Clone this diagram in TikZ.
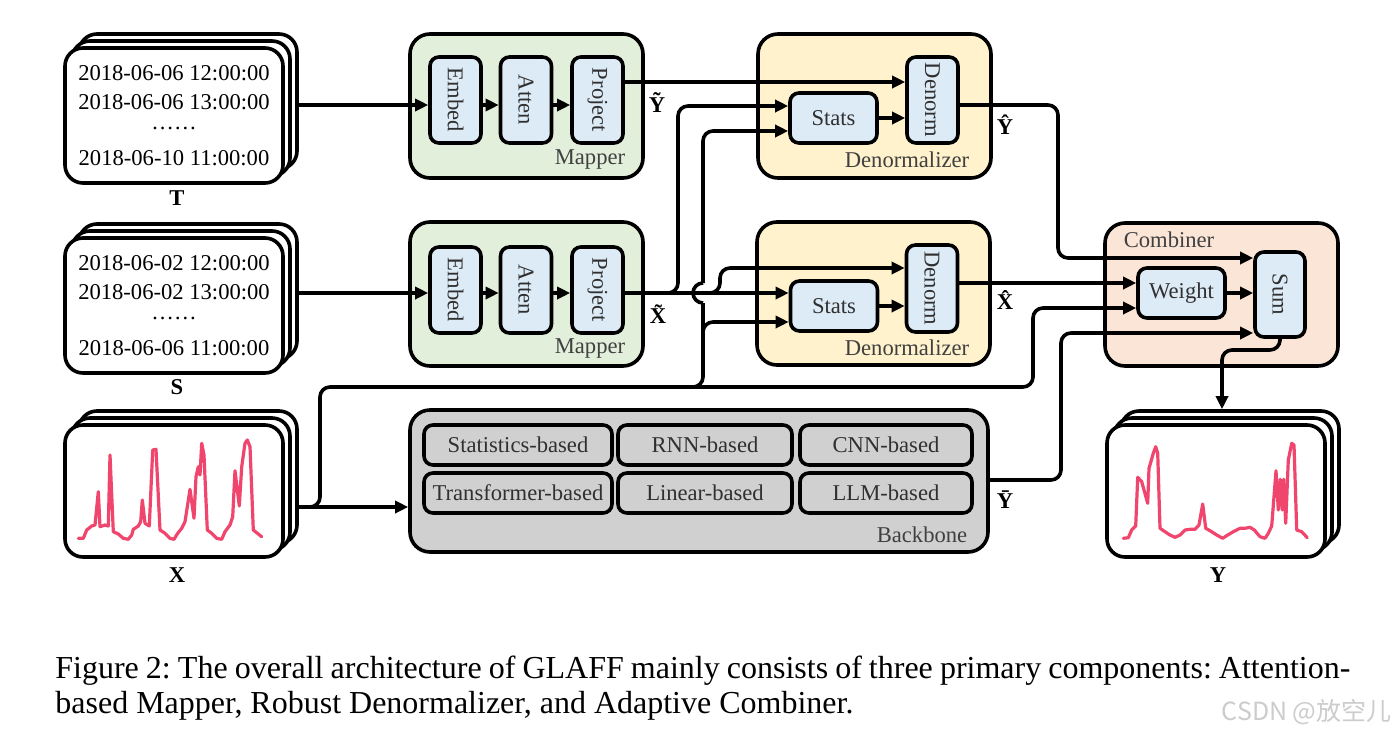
\documentclass[tikz,border=0pt]{standalone}
\usepackage{fontspec}
\usepackage{graphicx}
\setmainfont{Liberation Serif}
\newfontfamily\cjkfont{Noto Sans CJK SC}
\usetikzlibrary{arrows.meta,fit}
\definecolor{mapg}{HTML}{E2EFDA}
\definecolor{denormy}{HTML}{FFF2CC}
\definecolor{combp}{HTML}{FBE5D6}
\definecolor{boxb}{HTML}{DDEBF7}
\definecolor{bbgray}{HTML}{D0D0D0}
\definecolor{txtg}{HTML}{303030}
\definecolor{labg}{HTML}{404040}
\definecolor{curvep}{HTML}{F0466E}
\newcommand{\fsz}{\fontsize{11.3}{13.5}\selectfont}
\frenchspacing
\begin{document}
\begin{tikzpicture}[x=0.5pt,y=-0.5pt,
  lw/.style={line width=1.8pt},
  modbox/.style={draw, lw, rounded corners=10pt, inner sep=0pt},
  ibox/.style={draw, lw, fill=boxb, rounded corners=4.5pt, inner sep=0pt, font=\fsz, text=txtg},
  vbox/.style={ibox, minimum width=25.5pt, minimum height=43pt},
  hbox/.style={ibox, minimum width=43.5pt, minimum height=25pt},
  bbbox/.style={ibox, fill=bbgray, minimum height=20pt},
  cardl/.style={draw, line width=1.8pt, fill=white, rounded corners=9pt, inner sep=0pt},
  arr/.style={lw, rounded corners=5pt, -{Triangle[length=6.5pt,width=6pt]}},
  wire/.style={lw, rounded corners=5pt},
  modlabel/.style={font=\fsz, text=labg, inner sep=0pt},
  sym/.style={font=\fsz\bfseries, inner sep=0pt},
  datet/.style={font=\fsz, inner sep=0pt},
  curve/.style={line width=1.6pt, draw=curvep, line join=round, line cap=round}
]
\useasboundingbox (0,0) rectangle (1397,734);

% ---------- cards ----------
\node[cardl, fit={(79,34) (297,169)}] (tb2) {};
\node[cardl, fit={(72,41) (290,176)}] (tb1) {};
\node[cardl, fit={(65,48) (283,183)}] (tcard) {};
\node[datet] (t1) at (174,73) {2018-06-06 12:00:00};
\node[datet] (t2) at (174,102) {2018-06-06 13:00:00};
\node[datet] (t3) at (174,128) {……};
\node[datet] (t4) at (174,158) {2018-06-10 11:00:00};
\node[sym] (tlab) at (177,198) {T};

\node[cardl, fit={(79,224) (297,359)}] (sb2) {};
\node[cardl, fit={(72,231) (290,366)}] (sb1) {};
\node[cardl, fit={(65,238) (283,373)}] (scard) {};
\node[datet] (s1) at (174,263) {2018-06-02 12:00:00};
\node[datet] (s2) at (174,292) {2018-06-02 13:00:00};
\node[datet] (s3) at (174,318) {……};
\node[datet] (s4) at (174,348) {2018-06-06 11:00:00};
\node[sym] (slab) at (177,387) {S};

\node[cardl, fit={(79,411) (297,543)}] (xb2) {};
\node[cardl, fit={(72,418) (290,550)}] (xb1) {};
\node[cardl, fit={(65,425) (283,557)}] (xcard) {};
\draw[curve] (78.3,538.3) -- (83.3,538.3) -- (86.7,530) -- (91.7,526) -- (95,525) -- (98.3,491.7) -- (100,526.7) -- (105,525) -- (108.3,526) -- (110,455) -- (113.3,531.7) -- (118.3,534) -- (123.3,538.3) -- (128.3,539.3) -- (131.7,535) -- (133.3,529.3) -- (138.3,526) -- (140.7,521.7) -- (142.3,500) -- (145,523.3) -- (149.3,526) -- (152.7,450) -- (156,449.3) -- (160,530) -- (165,533.3) -- (170,538.3) -- (174,539.3) -- (177.7,533.3) -- (181.7,528.3) -- (185,521.7) -- (190,489.3) -- (194,518.3) -- (196,476.7) -- (198.3,466.7) -- (200,475) -- (201.7,443.3) -- (204,455) -- (207.3,530) -- (211.7,533.3) -- (216.7,538.3) -- (221.7,539.3) -- (225,531.7) -- (230,525) -- (232.7,516.7) -- (235,470.7) -- (239.3,506) -- (241.7,466.7) -- (245,443.3) -- (247.3,440) -- (250,446.7) -- (253.3,530) -- (261.7,536.7);
\node[sym] (xlab) at (177,575) {X};

\node[cardl, fit={(1121,411) (1339,543)}] (yb2) {};
\node[cardl, fit={(1114,418) (1332,550)}] (yb1) {};
\node[cardl, fit={(1107,425) (1325,557)}] (ycard) {};
\draw[curve] (1123.3,538.3) -- (1128.3,537.7) -- (1131.7,530) -- (1135.7,526) -- (1137.7,477.3) -- (1141.7,481.7) -- (1147.7,503.3) -- (1149,468.3) -- (1153.3,453.3) -- (1155.7,446.7) -- (1157.7,453.3) -- (1160,528.3) -- (1165,531.7) -- (1170,535) -- (1175,537.3) -- (1180,535) -- (1185,530) -- (1190,529.3) -- (1195,529.3) -- (1199,525) -- (1202.7,504) -- (1205.7,528.3) -- (1210,530.7) -- (1216.7,535) -- (1222.7,538.3) -- (1227.7,535) -- (1233.3,531.7) -- (1240,528.3) -- (1245,528.3) -- (1250,527.3) -- (1254.3,530) -- (1260,536.7) -- (1265,538.3) -- (1268.3,533.3) -- (1271.7,526) -- (1276,470.7) -- (1278.3,510) -- (1280.3,479.3) -- (1282.3,510) -- (1283.7,479.3) -- (1285.7,523.3) -- (1288.3,460) -- (1291.7,443.3) -- (1294,445) -- (1296.7,530) -- (1301.7,531.7) -- (1307.3,537.7);
\node[sym] (ylab) at (1218,575) {Y};

% ---------- modules ----------
\node[modbox, fill=mapg, fit={(410,34) (643,178)}] (map1) {};
\node[modbox, fill=mapg, fit={(410,222) (643,366)}] (map2) {};
\node[modbox, fill=denormy, fit={(758,34) (991,178)}] (den1) {};
\node[modbox, fill=denormy, fit={(757,222) (990,365)}] (den2) {};
\node[modbox, fill=combp, fit={(1105,223) (1338,366)}] (comb) {};
\node[modbox, fill=bbgray, fit={(410,410) (988,552)}] (backbone) {};

\node[modlabel] (maplab1) at (590,160) {Mapper};
\node[modlabel] (maplab2) at (590,348) {Mapper};
\node[modlabel] (denlab1) at (907,160) {Denormalizer};
\node[modlabel] (denlab2) at (907,348) {Denormalizer};
\node[modlabel] (comblab) at (1169,240) {Combiner};
\node[modlabel] (bblab) at (922,535) {Backbone};

\node[vbox] (embed1) at (455.5,100) {\rotatebox{-90}{Embed}};
\node[vbox] (atten1) at (526,100) {\rotatebox{-90}{Atten}};
\node[vbox] (project1) at (597.5,100) {\rotatebox{-90}{Project}};
\node[vbox] (embed2) at (455.5,290) {\rotatebox{-90}{Embed}};
\node[vbox] (atten2) at (526,290) {\rotatebox{-90}{Atten}};
\node[vbox] (project2) at (597.5,290) {\rotatebox{-90}{Project}};

\node[hbox] (stats1) at (833.5,118) {Stats};
\node[vbox] (denorm1) at (932.5,100) {\rotatebox{-90}{Denorm}};
\node[hbox] (stats2) at (834,306) {Stats};
\node[vbox, minimum height=43.5pt] (denorm2) at (932,288.5) {\rotatebox{-90}{Denorm}};

\node[hbox] (weight) at (1181.5,293) {Weight};
\node[vbox, minimum width=25pt, minimum height=42.5pt] (sum) at (1280,294.5) {\rotatebox{-90}{Sum}};

\node[bbbox, minimum width=94pt] (statb) at (518,445) {Statistics-based};
\node[bbbox, minimum width=87pt] (rnnb) at (705,445) {RNN-based};
\node[bbbox, minimum width=86pt] (cnnb) at (886,445) {CNN-based};
\node[bbbox, minimum width=94pt] (transb) at (518,493) {Transformer-based};
\node[bbbox, minimum width=87pt] (linb) at (705,493) {Linear-based};
\node[bbbox, minimum width=86pt] (llmb) at (886,493) {LLM-based};

% ---------- symbols ----------
\node[sym] (ytil) at (657,103) {\~{Y}};
\node[sym] (xtil) at (658,314) {\~{X}};
\node[sym] (yhat) at (1005,125) {\^{Y}};
\node[sym] (xhat) at (1005,300) {\^{X}};
\node[sym] (ybar) at (1005,500) {\={Y}};

% ---------- connectors ----------
\draw[arr] (tb2.east |- 0,105) -- (embed1.west |- 0,105);
\draw[arr] (embed1.east |- 0,105) -- (atten1.west |- 0,105);
\draw[arr] (atten1.east |- 0,105) -- (project1.west |- 0,105);
\draw[arr] (sb2.east |- 0,293) -- (embed2.west |- 0,293);
\draw[arr] (embed2.east |- 0,293) -- (atten2.west |- 0,293);
\draw[arr] (atten2.east |- 0,293) -- (project2.west |- 0,293);

\draw[arr] (project1.east |- 0,82) -- (denorm1.west |- 0,82);
\draw[arr] (project2.east |- 0,293) -- (678,293) -- (678,106) -- (stats1.west |- 0,106);
\draw[arr] (project2.east |- 0,293) -- (stats2.west |- 0,293);
\draw[arr] (project2.east |- 0,293) -- (720,293) -- (720,268) -- (denorm2.west |- 0,268);

\draw[arr] (xb2.east |- 0,507) -- (backbone.west |- 0,507);
\draw[arr] (xb2.east |- 0,507) -- (320,507) -- (320,387) -- (1033,387) -- (1033,308) -- (weight.west |- 0,308);
\draw[wire] (680,387) -- (703,387) -- (703,303);
\draw[lw] (703,303) arc[start angle=270, end angle=90, radius=5pt];
\draw[arr] (703,283) -- (703,131) -- (stats1.west |- 0,131);
\draw[arr] (703,340) -- (703,322) -- (stats2.west |- 0,322);

\draw[arr] (stats1.east) -- (denorm1.west |- stats1.east);
\draw[arr] (stats2.east) -- (denorm2.west |- stats2.east);

\draw[arr] (denorm1.east |- 0,105) -- (1058,105) -- (1058,258) -- (sum.west |- 0,258);
\draw[arr] (denorm2.east |- 0,283) -- (weight.west |- 0,283);
\draw[arr] (weight.east) -- (sum.west |- weight.east);
\draw[arr] (backbone.east |- 0,480) -- (1061,480) -- (1061,333) -- (sum.west |- 0,333);
\draw[arr] (sum.south) -- (1280,350) -- (1222,350) -- (1222,0 |- yb2.north);

% ---------- caption ----------
\node[anchor=base west, inner sep=0pt, font=\fontsize{16}{17.5}\selectfont] (cap1) at (55,678) {\makebox[647.5pt][s]{Figure 2: The overall architecture of GLAFF mainly consists of three primary components: Attention-}};
\node[anchor=base west, inner sep=0pt, font=\fontsize{16}{17.5}\selectfont] (cap2) at (55,713) {based Mapper, Robust Denormalizer, and Adaptive Combiner.};
\node[anchor=east, inner sep=0pt, font=\cjkfont\fontsize{12.5}{14}\selectfont, text=black!20] (wm) at (1392,712) {CSDN @放空儿};
\end{tikzpicture}
\end{document}
